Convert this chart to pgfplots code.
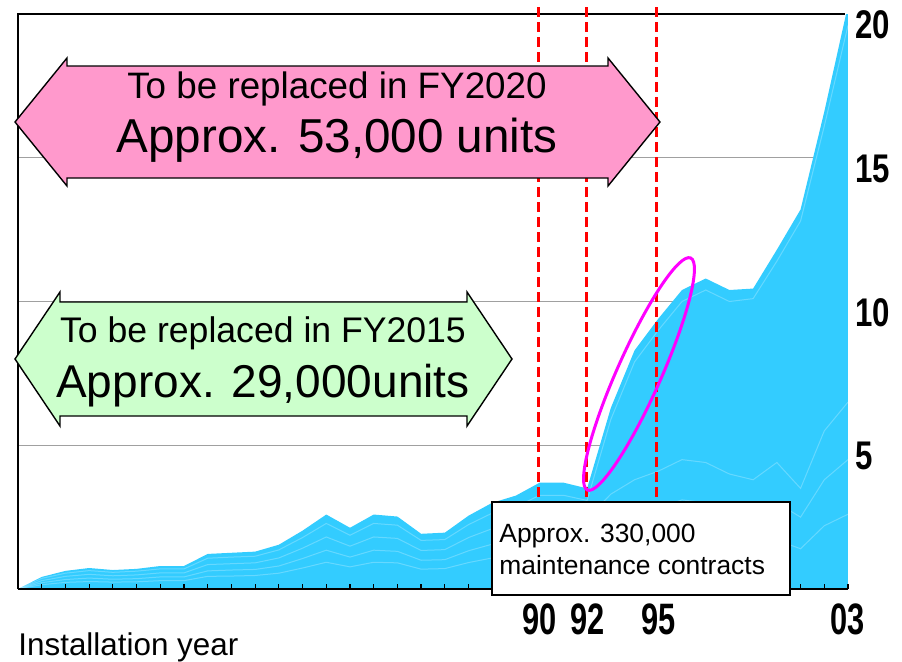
\documentclass[border=0pt]{standalone}
\usepackage{fontspec}
\setmainfont{Liberation Sans}
\newfontfamily\xnumfont[FakeStretch=0.7]{Liberation Sans}
\newfontfamily\ynumfont[FakeStretch=0.78]{Liberation Sans}
\usepackage{pgfplots}
\usepackage{pgfplotstable}
\pgfplotsset{compat=1.18}
\definecolor{areablue}{HTML}{33CCFF}
\definecolor{arrowpink}{HTML}{FF99CC}
\definecolor{arrowgreen}{HTML}{CCFFCC}
\definecolor{ringmagenta}{HTML}{FF00FF}
\definecolor{gridgray}{HTML}{A0A0A0}

% installed units by year (ten-thousands), top = cumulative envelope, l1..l4 = inner layers
\pgfplotstableread{
year top   l1    l2   l3   l4
1968 0     0     0    0    0
1969 0.42  0.37  0.29 0.22 0.15
1970 0.63  0.55  0.44 0.33 0.23
1971 0.73  0.64  0.51 0.38 0.26
1972 0.66  0.58  0.46 0.34 0.24
1973 0.70  0.62  0.49 0.36 0.25
1974 0.80  0.70  0.56 0.42 0.29
1975 0.80  0.70  0.56 0.42 0.29
1976 1.22  1.07  0.85 0.63 0.44
1977 1.26  1.11  0.88 0.66 0.45
1978 1.30  1.14  0.91 0.68 0.47
1979 1.54  1.36  1.08 0.80 0.55
1980 2.03  1.79  1.42 1.06 0.73
1981 2.59  2.28  1.81 1.35 0.93
1982 2.13  1.87  1.49 1.11 0.77
1983 2.59  2.28  1.81 1.35 0.93
1984 2.52  2.22  1.76 1.31 0.91
1985 1.92  1.69  1.34 1.00 0.69
1986 1.96  1.72  1.37 1.02 0.71
1987 2.55  2.24  1.79 1.33 0.92
1988 3.00  2.64  2.10 1.56 1.08
1989 3.25  2.86  2.28 1.69 1.17
1990 3.70  3.26  2.59 1.92 1.33
1991 3.70  3.26  2.59 1.92 1.33
1992 3.50  3.08  2.45 1.82 1.26
1993 6.30  5.90  3.30 2.30 1.40
1994 8.30  7.90  3.80 2.60 1.50
1995 9.40  9.00  4.10 2.80 1.60
1996 10.40 10.00 4.50 3.10 1.80
1997 10.80 10.40 4.40 3.00 1.80
1998 10.40 10.00 4.00 2.80 1.60
1999 10.45 10.10 3.80 2.70 1.50
2000 11.80 11.40 4.40 3.00 1.70
2001 13.20 12.80 3.50 2.50 1.40
2002 16.60 16.10 5.50 3.80 2.20
2003 20.30 19.60 6.50 4.50 2.60
}\installs

\begin{document}
\begin{tikzpicture}
\begin{axis}[
  scale only axis, width=415pt, height=287.5pt,
  xmin=1968, xmax=2003, ymin=0, ymax=20,
  axis line style={draw=none},
  axis on top,
  xtick={1990,1992,1995,2003}, xticklabels={90,92,95,03},
  minor xtick={1969,...,2002},
  xtick pos=left, tick align=inside,
  major tick length=2.5pt, minor tick length=2.5pt,
  tick style={draw=black, line width=0.6pt},
  xticklabel style={font=\xnumfont\bfseries\fontsize{22}{24}\selectfont, inner sep=0pt, anchor=north, yshift=-7pt},
  ytick={5,10,15,20}, yticklabels={5,10,15,20},
  ytick style={draw=none},
  yticklabel pos=right,
  yticklabel style={font=\ynumfont\bfseries\fontsize{20}{22}\selectfont, inner sep=0pt, anchor=west, xshift=3.5pt, yshift=-5.5pt},
]
\draw[gridgray, line width=0.6pt] (axis cs:1968,5) -- (axis cs:2003,5);
\draw[gridgray, line width=0.6pt] (axis cs:1968,10) -- (axis cs:2003,10);
\draw[gridgray, line width=0.6pt] (axis cs:1968,15) -- (axis cs:2003,15);
\addplot[fill=areablue, draw=none] table[x=year, y=top] {\installs} \closedcycle;
\addplot[draw=white, opacity=0.25, line width=0.5pt] table[x=year, y=l1] {\installs};
\addplot[draw=white, opacity=0.25, line width=0.5pt] table[x=year, y=l2] {\installs};
\addplot[draw=white, opacity=0.25, line width=0.5pt] table[x=year, y=l3] {\installs};
\addplot[draw=white, opacity=0.25, line width=0.5pt] table[x=year, y=l4] {\installs};
\end{axis}

% annotations in pixel units of the 902x661 reference
\begin{scope}[x=0.5pt, y=-0.5pt, shift={(-9pt,294.5pt)}]
  % frame
  \draw[black, line width=0.6pt] (18,589) -- (18,14) -- (845,14);
  \draw[black, line width=0.9pt] (18,589) -- (848,589);
  % year ticks along the base
  \foreach \k in {1,...,34}
    \draw[black, line width=0.5pt] ({18+\k*23.714},589) -- ({18+\k*23.714},584);
  % red dashed markers
  \foreach \px in {538,586,656}
    \draw[red, line width=1.5pt, dash pattern=on 5pt off 2.5pt] (\px,7) -- (\px,502);
  % FY2020 arrow
  \draw[black, line width=0.7pt, fill=arrowpink]
    (15,122) -- (67,58) -- (67,66) -- (608,66) -- (608,58) -- (660,122)
    -- (608,186) -- (608,178) -- (67,178) -- (67,186) -- cycle;
  \node[anchor=base, inner sep=0pt, font=\fontsize{18.4}{20}\selectfont] at (337,98) {To be replaced in FY2020};
  \node[anchor=base, inner sep=0pt, font=\fontsize{23.8}{26}\selectfont] at (337,152) {Approx. 53,000 units};
  % FY2015 arrow
  \draw[black, line width=0.7pt, fill=arrowgreen]
    (15,359) -- (60,292) -- (60,302) -- (467,302) -- (467,292) -- (512,359)
    -- (467,426) -- (467,416) -- (60,416) -- (60,426) -- cycle;
  \node[anchor=base, inner sep=0pt, font=\fontsize{17.8}{20}\selectfont] at (263,342) {To be replaced in FY2015};
  \node[anchor=base, inner sep=0pt, font=\fontsize{23}{26}\selectfont] at (263,397) {Approx. 29,000units};
  % highlight ring
  \draw[ringmagenta, line width=1.5pt, rotate around={66:(639,374)}] (639,374) ellipse [x radius=127, y radius=22];
  % contracts box
  \draw[black, line width=0.7pt, fill=white] (492,502) rectangle (790,595);
  \node[anchor=west, align=left, inner sep=0pt, font=\fontsize{13.2}{16}\selectfont] at (499,549)
    {Approx. 330,000\\maintenance contracts};
  % axis caption
  \node[anchor=base west, inner sep=0pt, font=\fontsize{15.7}{18}\selectfont] at (18,655) {Installation year};
\end{scope}
\pgfresetboundingbox
\path[use as bounding box] (-9pt,-36pt) rectangle (442pt,294.5pt);
\end{tikzpicture}
\end{document}
